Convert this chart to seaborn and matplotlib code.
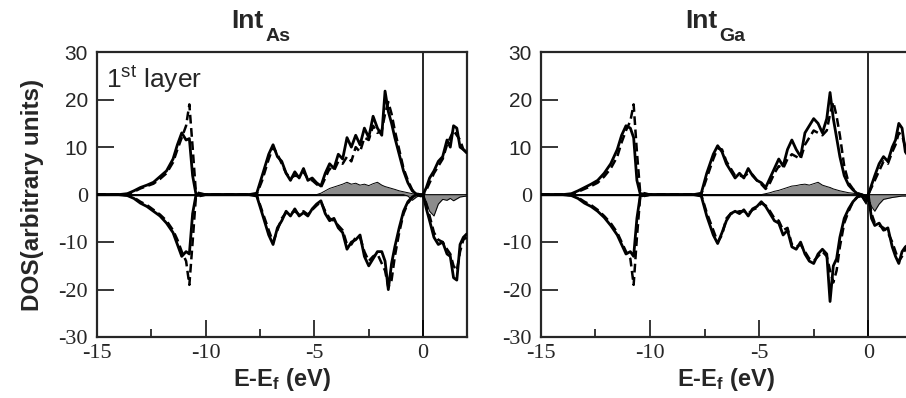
import matplotlib
matplotlib.use("Agg")
import pandas as pd
import matplotlib.pyplot as plt
import seaborn as sns

# energy grid (eV, relative to E_f)
energy = [-15.0, -14.0, -13.6, -13.3, -13.0, -12.7, -12.4, -12.1, -11.8, -11.5,
          -11.3, -11.1, -10.9, -10.75, -10.6, -10.45, -10.0, -9.0, -8.0, -7.65,
          -7.4, -7.1, -6.9, -6.7, -6.5, -6.3, -6.1, -5.9, -5.7, -5.5,
          -5.3, -5.1, -4.9, -4.7, -4.5, -4.3, -4.1, -3.9, -3.7, -3.5,
          -3.3, -3.1, -2.9, -2.7, -2.5, -2.3, -2.1, -1.9, -1.75, -1.6,
          -1.45, -1.3, -1.1, -0.9, -0.7, -0.5, -0.3, -0.1, 0.0, 0.15,
          0.3, 0.5, 0.7, 0.9, 1.1, 1.25, 1.4, 1.55, 1.7, 1.85, 2.0]

# Int_As panel
as_up_solid = [0, 0, 0.2, 0.8, 1.5, 2.0, 2.6, 3.8, 5.0, 7.5,
               10.5, 13.0, 11.5, 11.8, 4.0, 0.2, 0, 0, 0, 0.3,
               4.0, 8.5, 10.5, 8.0, 7.0, 4.5, 3.0, 4.8, 3.5, 5.5,
               3.0, 3.5, 2.5, 1.8, 4.5, 6.5, 5.5, 8.5, 7.5, 12.0,
               10.0, 12.5, 10.5, 14.0, 12.0, 16.5, 14.0, 12.5, 21.8, 17.5,
               15.0, 12.0, 8.5, 5.0, 2.5, 0.8, 0.1, 0.0, 0.0, 1.5,
               3.5, 5.0, 7.0, 8.0, 11.5, 10.0, 14.5, 14.0, 10.0, 9.5, 8.8]
as_up_dash = [0, 0, 0.1, 0.6, 1.3, 1.8, 2.3, 3.3, 4.5, 6.8,
              9.5, 12.0, 14.5, 19.0, 10.0, 0.5, 0, 0, 0, 0.1,
              3.0, 7.5, 10.0, 8.5, 6.5, 4.5, 3.5, 4.0, 3.8, 4.8,
              3.3, 3.0, 2.2, 1.5, 3.5, 5.5, 5.0, 7.0, 6.5, 8.0,
              7.0, 10.0, 9.0, 12.0, 11.5, 14.5, 13.0, 13.5, 17.0, 19.5,
              17.0, 13.5, 9.5, 5.5, 3.0, 1.0, 0.2, 0.0, 0.0, 1.0,
              2.5, 4.5, 6.0, 7.5, 10.5, 12.0, 13.5, 12.5, 11.5, 9.5, 9.0]
as_dn_solid = [0, 0, -0.2, -0.8, -1.8, -2.5, -3.5, -4.5, -6.0, -8.0,
               -10.5, -13.0, -12.0, -12.5, -4.0, -0.2, 0, 0, 0, -0.3,
               -4.0, -8.5, -10.5, -7.0, -5.5, -3.5, -4.5, -3.0, -4.5, -3.8,
               -4.5, -3.0, -2.0, -1.3, -4.0, -5.5, -5.0, -7.0, -8.0, -11.5,
               -10.0, -9.5, -8.5, -13.0, -15.0, -13.5, -12.0, -12.0, -14.0, -20.0,
               -14.5, -11.0, -7.0, -3.5, -1.5, -0.5, 0.0, -0.3, 0.0, -3.0,
               -5.5, -9.0, -10.5, -10.0, -12.5, -13.0, -17.5, -18.0, -10.5, -9.0, -8.3]
as_dn_dash = [0, 0, -0.1, -0.6, -1.5, -2.2, -3.2, -4.2, -5.5, -7.5,
              -9.5, -12.0, -14.0, -19.0, -10.0, -0.5, 0, 0, 0, -0.1,
              -3.5, -7.5, -10.0, -7.5, -5.0, -3.8, -4.0, -3.5, -4.2, -3.5,
              -4.2, -3.2, -2.3, -1.5, -3.5, -5.0, -5.5, -6.5, -7.5, -10.5,
              -10.5, -9.0, -9.0, -12.0, -14.0, -13.0, -12.5, -14.5, -16.0, -19.5,
              -18.0, -13.0, -8.0, -4.0, -1.8, -0.6, 0.0, -0.2, 0.0, -2.0,
              -4.5, -8.0, -9.5, -10.0, -11.5, -12.5, -15.0, -16.0, -12.0, -9.5, -9.0]
as_up_gray = [0, 0, 0, 0, 0, 0, 0, 0, 0, 0,
              0, 0, 0, 0, 0, 0, 0, 0, 0, 0,
              0, 0, 0, 0, 0, 0, 0, 0, 0, 0,
              0, 0, 0, 0.3, 0.8, 1.3, 1.6, 1.9, 2.2, 2.6,
              2.2, 2.4, 2.0, 2.2, 1.9, 2.3, 2.6, 2.0, 1.7, 1.5,
              1.3, 1.1, 0.8, 0.6, 0.4, 0.2, 0.0, 0.0, 0.0, 0,
              0, 0, 0, 0, 0, 0, 0, 0, 0, 0, 0]
as_dn_gray = [0, 0, 0, 0, 0, 0, 0, 0, 0, 0,
              0, 0, 0, 0, 0, 0, 0, 0, 0, 0,
              0, 0, 0, 0, 0, 0, 0, 0, 0, 0,
              0, 0, 0, 0, 0, 0, 0, 0, 0, 0,
              0, 0, 0, 0, 0, 0, 0, 0, 0, 0,
              0, 0, 0, 0, -0.3, -1.2, -0.5, 0.0, 0.0, -1.5,
              -3.5, -4.5, -2.0, -1.0, -1.2, -0.8, -1.3, -0.9, -0.5, -0.4, -0.3]

# Int_Ga panel
ga_up_solid = [0, 0, 0.2, 0.8, 1.5, 2.2, 3.0, 4.5, 6.5, 9.5,
               12.5, 14.5, 14.0, 12.0, 3.0, 0.2, 0, 0, 0, 0.3,
               4.5, 8.5, 10.3, 9.0, 6.5, 5.0, 3.5, 4.5, 3.5, 5.5,
               4.0, 3.0, 2.5, 1.5, 3.5, 5.5, 7.5, 6.0, 9.5, 11.5,
               9.5, 8.0, 13.0, 14.5, 16.0, 15.0, 13.0, 16.0, 21.5, 16.0,
               12.0, 8.0, 4.0, 2.0, 1.0, 0.2, 0.0, -0.5, 0.0, 2.0,
               4.0, 6.5, 8.0, 7.0, 10.0, 11.5, 15.0, 14.0, 9.0, 8.0, 7.5]
ga_up_dash = [0, 0, 0.1, 0.6, 1.2, 1.8, 2.5, 3.8, 5.5, 8.0,
              11.0, 13.5, 15.5, 19.0, 9.0, 0.5, 0, 0, 0, 0.1,
              3.5, 7.5, 9.8, 9.5, 7.0, 5.5, 4.0, 4.0, 3.8, 4.5,
              4.2, 3.0, 2.2, 1.2, 2.5, 4.5, 6.0, 5.5, 7.5, 8.5,
              8.0, 7.5, 10.5, 12.0, 13.5, 13.0, 12.5, 13.5, 17.0, 19.5,
              16.5, 12.5, 6.0, 2.5, 1.2, 0.3, 0.0, -0.3, 0.0, 1.5,
              3.0, 5.0, 7.0, 6.5, 9.0, 10.5, 13.0, 12.5, 10.0, 8.5, 8.0]
ga_dn_solid = [0, 0, -0.2, -0.8, -1.8, -2.5, -3.5, -4.8, -6.5, -8.5,
               -10.5, -12.5, -12.0, -13.0, -5.0, -0.3, 0, 0, 0, -0.3,
               -4.5, -8.5, -10.3, -8.0, -5.5, -4.0, -3.5, -4.0, -3.2, -4.5,
               -3.0, -2.5, -1.5, -2.5, -4.0, -5.5, -6.0, -8.5, -7.5, -11.0,
               -11.5, -10.0, -12.5, -14.0, -14.5, -12.5, -11.5, -12.5, -22.5, -15.0,
               -13.5, -9.0, -5.0, -3.0, -1.5, -0.5, -0.2, -1.5, 0.0, -5.0,
               -6.5, -6.0, -7.5, -7.0, -11.0, -13.0, -14.5, -12.0, -11.0, -10.5, -10.0]
ga_dn_dash = [0, 0, -0.1, -0.6, -1.5, -2.2, -3.2, -4.5, -6.0, -8.0,
              -10.0, -12.0, -13.5, -19.0, -9.0, -0.5, 0, 0, 0, -0.1,
              -3.8, -7.5, -10.0, -8.5, -5.0, -4.0, -3.8, -3.5, -3.5, -4.0,
              -3.2, -2.8, -1.8, -2.3, -3.5, -5.0, -5.5, -7.5, -7.0, -10.5,
              -11.0, -10.5, -12.0, -13.5, -14.0, -13.0, -12.0, -13.0, -16.0, -18.5,
              -16.0, -11.0, -6.0, -3.5, -1.5, -0.5, -0.2, -1.0, 0.0, -4.0,
              -6.0, -6.5, -7.0, -8.0, -10.0, -12.0, -14.0, -13.0, -11.5, -10.5, -10.0]
ga_up_gray = [0, 0, 0, 0, 0, 0, 0, 0, 0, 0,
              0, 0, 0, 0, 0, 0, 0, 0, 0, 0,
              0, 0, 0, 0, 0, 0, 0, 0, 0, 0,
              0, 0, 0, 0.2, 0.4, 0.7, 0.9, 1.2, 1.5, 1.8,
              1.9, 2.1, 2.2, 2.0, 2.3, 2.6, 2.0, 1.7, 1.5, 1.2,
              1.0, 0.8, 0.6, 0.4, 0.3, 0.1, 0.0, 0, 0, 0,
              0, 0, 0, 0, 0, 0, 0, 0, 0, 0, 0]
ga_dn_gray = [0, 0, 0, 0, 0, 0, 0, 0, 0, 0,
              0, 0, 0, 0, 0, 0, 0, 0, 0, 0,
              0, 0, 0, 0, 0, 0, 0, 0, 0, 0,
              0, 0, 0, 0, 0, 0, 0, 0, 0, 0,
              0, 0, 0, 0, 0, 0, 0, 0, 0, 0,
              0, 0, 0, 0, 0, 0, -0.5, -2.0, -1.0, -2.5,
              -3.5, -2.0, -1.0, -0.8, -0.6, -0.5, -0.4, -0.3, -0.3, -0.3, -0.3]

x_ticks = [-15, -10, -5, 0]
y_ticks = [-30, -20, -10, 0, 10, 20, 30]

sns.set_style("ticks")
plt.rcParams['font.family'] = ['Liberation Sans', 'DejaVu Sans']
plt.rcParams['axes.unicode_minus'] = False
plt.rcParams['mathtext.fontset'] = 'custom'
plt.rcParams['mathtext.rm'] = 'Liberation Sans'
plt.rcParams['mathtext.bf'] = 'Liberation Sans:bold'
plt.rcParams['mathtext.it'] = 'Liberation Sans:italic'


def make_df(up_s, up_d, dn_s, dn_d, up_g, dn_g):
    return pd.DataFrame({"E": energy, "up_s": up_s, "up_d": up_d,
                         "dn_s": dn_s, "dn_d": dn_d,
                         "up_g": up_g, "dn_g": dn_g})


df_as = make_df(as_up_solid, as_up_dash, as_dn_solid, as_dn_dash, as_up_gray, as_dn_gray)
df_ga = make_df(ga_up_solid, ga_up_dash, ga_dn_solid, ga_dn_dash, ga_up_gray, ga_dn_gray)

fig = plt.figure(figsize=(9.06, 3.98), dpi=100)
ax1 = fig.add_axes([0.107, 0.153, 0.408, 0.716])
ax2 = fig.add_axes([0.597, 0.153, 0.4095, 0.716])


def draw_panel(ax, df, sub, title_x):
    ax.axhline(0, color='black', lw=1.0, zorder=1)
    ax.axvline(0, color='black', lw=1.2, zorder=1)
    # gray filled curves
    ax.fill_between(df["E"], 0, df["up_g"], color='#8c8c8c', lw=0, zorder=2)
    ax.fill_between(df["E"], 0, df["dn_g"], color='#8c8c8c', lw=0, zorder=2)
    for col in ["up_g", "dn_g"]:
        sns.lineplot(data=df, x="E", y=col, ax=ax, color='black', lw=0.7, sort=False, zorder=3)
    for col in ["up_d", "dn_d"]:
        sns.lineplot(data=df, x="E", y=col, ax=ax, color='black', lw=1.8,
                     linestyle=(0, (3.5, 1.8)), sort=False, zorder=4)
    for col in ["up_s", "dn_s"]:
        sns.lineplot(data=df, x="E", y=col, ax=ax, color='black', lw=2.0, sort=False, zorder=5)

    ax.set_xlim(-15, 2)
    ax.set_ylim(-30, 30)
    ax.set_xticks(x_ticks, labels=[str(v) for v in x_ticks])
    ax.set_xticks([-12.5, -7.5, -2.5], minor=True)
    ax.set_yticks(y_ticks, labels=[str(v) for v in y_ticks])
    ax.tick_params(axis='both', which='major', direction='in', length=12, width=1.3)
    ax.tick_params(axis='x', which='minor', direction='in', length=6, width=1.3)
    ax.tick_params(axis='y', pad=6.5)
    ax.tick_params(axis='x', pad=5)
    for lab in ax.get_xticklabels():
        lab.set_fontfamily('Liberation Serif')
        lab.set_fontsize(16)
    # positive labels are sans, zero and negative ones serif
    for v, lab in zip(y_ticks, ax.get_yticklabels()):
        if v > 0:
            lab.set_fontfamily('Liberation Sans')
            lab.set_fontsize(15)
        else:
            lab.set_fontfamily('Liberation Serif')
            lab.set_fontsize(16)
    for sp in ax.spines.values():
        sp.set_linewidth(1.6)
    ax.set_xlabel(r"E-E$_\mathbf{f}$ (eV)", fontsize=17, fontweight='bold', labelpad=2)
    ax.set_ylabel("")
    ax.text(title_x, 1.084, "Int", transform=ax.transAxes, ha='right', va='baseline',
            fontsize=19, fontweight='bold')
    ax.text(title_x + 0.004, 1.038, sub, transform=ax.transAxes, ha='left', va='baseline',
            fontsize=14, fontweight='bold')


draw_panel(ax1, df_as, "As", 0.451)
draw_panel(ax2, df_ga, "Ga", 0.477)

ax1.set_ylabel("DOS(arbitrary units)", fontsize=17.5, fontweight='bold', labelpad=10)
ax1.text(0.024, 0.874, r"1$^{\mathrm{st}}$ layer", transform=ax1.transAxes, fontsize=19)

fig.savefig("out.png", dpi=100)
